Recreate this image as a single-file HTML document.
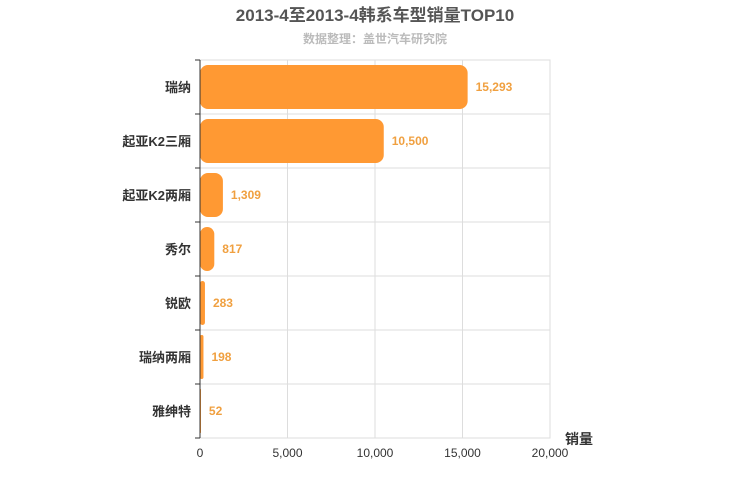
<!DOCTYPE html>
<html><head><meta charset="utf-8"><style>
body{margin:0;background:#fff;}
svg{display:block;font-family:"Liberation Sans","Noto Sans CJK SC",sans-serif;}
</style></head><body>
<svg id="c" width="750" height="500">
<text x="375" y="21" text-anchor="middle" font-size="17" font-weight="bold" fill="#555">2013-4至2013-4韩系车型销量TOP10</text>
<text x="375" y="43" text-anchor="middle" font-size="12" font-weight="bold" fill="#bbb">数据整理：盖世汽车研究院</text>
<text x="565" y="444" font-size="14" font-weight="bold" fill="#333">销量</text>
<g id="grid"></g><g id="bars"></g><g id="axes"></g>
</svg>
<script>
const categories=["瑞纳","起亚K2三厢","起亚K2两厢","秀尔","锐欧","瑞纳两厢","雅绅特"];
const values=[15293,10500,1309,817,283,198,52];
const ticks=[0,5000,10000,15000,20000];
const tickLabels=["0","5,000","10,000","15,000","20,000"];
const X0=200,X1=550,Y0=60,Y1=438,MAX=20000;
const ns="http://www.w3.org/2000/svg";
const x=v=>X0+(v/MAX)*(X1-X0);
const band=(Y1-Y0)/categories.length;
const y=i=>Y0+i*band;
function mk(t,a,p){const e=document.createElementNS(ns,t);for(const k in a)e.setAttribute(k,a[k]);p.appendChild(e);return e;}
const g=document.getElementById('grid'),b=document.getElementById('bars'),ax=document.getElementById('axes');
mk('rect',{x:X0,y:Y0,width:X1-X0,height:Y1-Y0,fill:'none',stroke:'#ddd'},g);
ticks.forEach((t,i)=>{
 const l=mk('line',{x1:x(t),x2:x(t),y1:Y0,y2:Y1,stroke:'#ddd'},g);
 
 
 const tx=mk('text',{x:x(t),y:Y1+19,'text-anchor':'middle','font-size':12,fill:'#333'},ax);
 tx.textContent=tickLabels[i];
 
 
});
for(let i=1;i<categories.length;i++){
 const l=mk('line',{x1:X0,x2:X1,y1:y(i),y2:y(i),stroke:'#ddd'},g);
 
 
}
mk('line',{x1:X0,x2:X0,y1:Y0,y2:Y1,stroke:'#333'},ax);
for(let i=0;i<=categories.length;i++)mk('line',{x1:X0-5,x2:X0,y1:y(i),y2:y(i),stroke:'#333'},ax);
categories.forEach((c,i)=>{
 const w=Math.max(x(values[i])-X0,1);
 const r=mk('rect',{x:X0,y:y(i)+5,width:w,height:band-10,rx:Math.min(8,w/2),fill:'#ff9933'},b);
 
 
 const vl=mk('text',{x:x(values[i])+8,y:y(i)+band/2+4,'font-size':12,'font-weight':'bold',fill:'#f0a040'},b);
 vl.textContent=values[i].toLocaleString('en-US');
 
 
 const cl=mk('text',{x:X0-9,y:y(i)+band/2+5,'text-anchor':'end','font-size':13,'font-weight':'bold',fill:'#333'},ax);
 cl.textContent=c;
 
 
});
</script>
</body></html>
